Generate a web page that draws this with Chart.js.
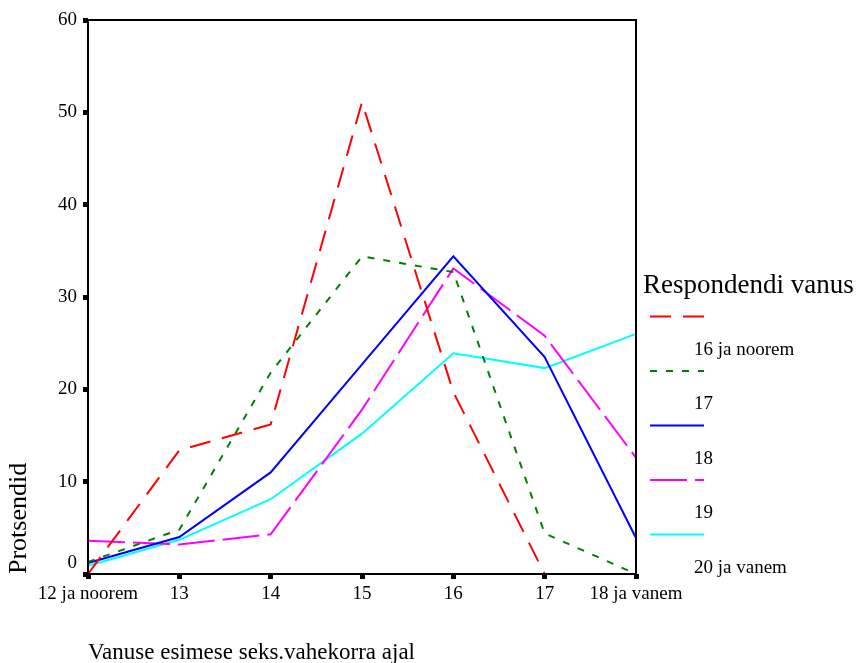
<!DOCTYPE html>
<html><head><meta charset="utf-8">
<script src="https://cdn.jsdelivr.net/npm/chart.js@4/dist/chart.umd.min.js"></script>
<style>html,body{margin:0;padding:0;background:#fff;}</style>
</head><body>
<canvas id="c" width="856" height="663"></canvas>
<script>
const categories = ['12 ja noorem', '13', '14', '15', '16', '17', '18 ja vanem'];
const seriesNames = ['16 ja noorem', '17', '18', '19', '20 ja vanem'];
const age16 = [0, 13.4, 16.2, 51.1, 19.7, 0, 0];
const age17 = [1.3, 4.8, 21.8, 34.4, 32.7, 4.4, 0];
const age18 = [1.2, 4.0, 11.0, 22.7, 34.4, 23.5, 3.9];
const age19 = [3.6, 3.2, 4.3, 17.8, 33.1, 25.8, 12.6];
const age20 = [0.9, 3.7, 8.1, 15.2, 23.9, 22.3, 26.0];
const yTickValues = [0, 10, 20, 30, 40, 50, 60];
const xTitle = 'Vanuse esimese seks.vahekorra ajal';
const yTitle = 'Protsendid';
const legendTitle = 'Respondendi vanus';

const FONT = '"Liberation Serif", "Times New Roman", serif';
const styles = [
  {color: '#ff0000', dash: [21, 12]},
  {color: '#008000', dash: [7, 9]},
  {color: '#0000ff', dash: []},
  {color: '#ff00ff', dash: [37, 8]},
  {color: '#00ffff', dash: []}
];
const seriesValues = [age16, age17, age18, age19, age20];

const datasets = seriesValues.map((vals, i) => ({
  label: seriesNames[i],
  data: vals,
  borderColor: styles[i].color,
  backgroundColor: styles[i].color,
  borderDash: styles[i].dash,
  borderWidth: 2,
  pointRadius: 0,
  tension: 0,
  fill: false,
  clip: 6
}));

const framePlugin = {
  id: 'frame',
  afterDatasetsDraw(chart) {
    const {ctx, chartArea: a} = chart;
    ctx.save();
    ctx.strokeStyle = '#000';
    ctx.lineWidth = 2;
    ctx.setLineDash([]);
    ctx.strokeRect(a.left, a.top, a.right - a.left, a.bottom - a.top);
    ctx.restore();
  }
};

const legendPlugin = {
  id: 'spssLegend',
  afterDraw(chart) {
    const ctx = chart.ctx;
    const a = chart.chartArea;
    ctx.save();
    ctx.fillStyle = '#000';
    ctx.textBaseline = 'alphabetic';
    ctx.textAlign = 'left';
    ctx.font = '27px ' + FONT;
    ctx.fillText(legendTitle, a.right + 7, 293);
    chart.data.datasets.forEach((ds, i) => {
      const y = 316.5 + i * 54.5;
      ctx.strokeStyle = ds.borderColor;
      ctx.lineWidth = 2;
      ctx.setLineDash(ds.borderDash || []);
      ctx.beginPath();
      ctx.moveTo(a.right + 14, y);
      ctx.lineTo(a.right + 68, y);
      ctx.stroke();
      ctx.setLineDash([]);
      ctx.font = '19px ' + FONT;
      ctx.fillText(ds.label, a.right + 58, y + 38);
    });
    ctx.restore();
  }
};

new Chart(document.getElementById('c'), {
  type: 'line',
  data: {labels: categories, datasets},
  plugins: [framePlugin, legendPlugin],
  options: {
    responsive: false,
    animation: false,
    devicePixelRatio: 1,
    layout: {padding: {left: 0, top: 20, right: 220, bottom: 0}},
    plugins: {legend: {display: false}, tooltip: {enabled: false}},
    scales: {
      x: {
        type: 'category',
        offset: false,
        afterFit(scale) { scale.height = 89; },
        grid: {display: true, drawOnChartArea: false, drawTicks: true, tickLength: 5, tickWidth: 5, tickColor: '#000'},
        border: {display: false},
        ticks: {
          color: '#000',
          font: {family: FONT, size: 19},
          padding: 4,
          maxRotation: 0, minRotation: 0, autoSkip: false
        },
        title: {
          display: true, text: xTitle, align: 'start', color: '#000',
          font: {family: FONT, size: 23, lineHeight: 0.85},
          padding: {top: 0, bottom: 0}
        }
      },
      y: {
        min: 0, max: 60,
        afterFit(scale) { scale.width = 88; },
        afterBuildTicks(scale) { scale.ticks = yTickValues.map(v => ({value: v})); },
        grid: {display: true, drawOnChartArea: false, drawTicks: true, tickLength: 5, tickWidth: 5, tickColor: '#000'},
        border: {display: false},
        ticks: {
          color: '#000',
          font: {family: FONT, size: 19},
          padding: 6,
          callback: (v) => v === 0 ? ['0', ''] : String(v)
        },
        title: {
          display: true, text: yTitle, align: 'start', color: '#000',
          font: {family: FONT, size: 26, lineHeight: 1.2},
          padding: {top: 4, bottom: 0}
        }
      }
    }
  }
});
</script>
</body></html>
